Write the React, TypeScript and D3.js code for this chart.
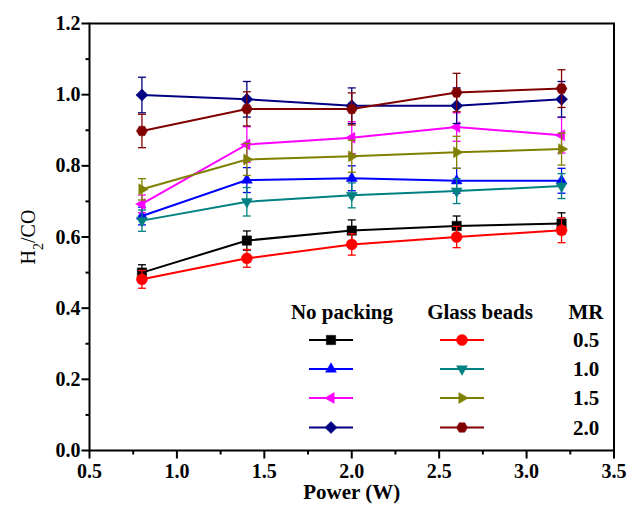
import React from "react";
import * as d3 from "d3";

const power = [0.8, 1.4, 2.0, 2.6, 3.2];

const npMR05 = [0.5, 0.59, 0.618, 0.631, 0.638];
const npMR05Err = [0.022, 0.027, 0.03, 0.028, 0.03];
const npMR10 = [0.659, 0.76, 0.765, 0.758, 0.758];
const npMR10Err = [0.025, 0.035, 0.035, 0.035, 0.035];
const npMR15 = [0.693, 0.86, 0.879, 0.909, 0.886];
const npMR15Err = [0.025, 0.05, 0.045, 0.04, 0.05];
const npMR20 = [0.999, 0.987, 0.969, 0.969, 0.987];
const npMR20Err = [0.05, 0.05, 0.05, 0.05, 0.05];

const gbMR05 = [0.481, 0.54, 0.579, 0.6, 0.619];
const gbMR05Err = [0.025, 0.025, 0.03, 0.03, 0.035];
const gbMR10 = [0.646, 0.699, 0.717, 0.729, 0.743];
const gbMR10Err = [0.03, 0.04, 0.035, 0.035, 0.035];
const gbMR15 = [0.734, 0.818, 0.827, 0.838, 0.847];
const gbMR15Err = [0.03, 0.045, 0.045, 0.045, 0.045];
const gbMR20 = [0.898, 0.96, 0.96, 1.006, 1.017];
const gbMR20Err = [0.047, 0.048, 0.045, 0.054, 0.053];

const mrLabels = ["0.5", "1.0", "1.5", "2.0"];
const xTicks = [0.5, 1.0, 1.5, 2.0, 2.5, 3.0, 3.5];
const yTicks = [0.0, 0.2, 0.4, 0.6, 0.8, 1.0, 1.2];

type Shape = "square" | "circle" | "up" | "down" | "left" | "right" | "diamond" | "hexagon";

const series: { name: string; values: number[]; err: number[]; color: string; shape: Shape; group: number; row: number }[] = [
  { name: "No packing MR 0.5", values: npMR05, err: npMR05Err, color: "#000000", shape: "square", group: 0, row: 0 },
  { name: "No packing MR 1.0", values: npMR10, err: npMR10Err, color: "#0000ff", shape: "up", group: 0, row: 1 },
  { name: "No packing MR 1.5", values: npMR15, err: npMR15Err, color: "#ff00ff", shape: "left", group: 0, row: 2 },
  { name: "No packing MR 2.0", values: npMR20, err: npMR20Err, color: "#000080", shape: "diamond", group: 0, row: 3 },
  { name: "Glass beads MR 0.5", values: gbMR05, err: gbMR05Err, color: "#ff0000", shape: "circle", group: 1, row: 0 },
  { name: "Glass beads MR 1.0", values: gbMR10, err: gbMR10Err, color: "#008080", shape: "down", group: 1, row: 1 },
  { name: "Glass beads MR 1.5", values: gbMR15, err: gbMR15Err, color: "#808000", shape: "right", group: 1, row: 2 },
  { name: "Glass beads MR 2.0", values: gbMR20, err: gbMR20Err, color: "#800000", shape: "hexagon", group: 1, row: 3 },
];

function poly(n: number, r: number, startDeg: number) {
  const pts: string[] = [];
  for (let i = 0; i < n; i++) {
    const a = ((startDeg + (360 / n) * i) * Math.PI) / 180;
    pts.push(`${(r * Math.cos(a)).toFixed(2)},${(r * Math.sin(a)).toFixed(2)}`);
  }
  return "M" + pts.join("L") + "Z";
}

function markerPath(shape: Shape, r: number) {
  switch (shape) {
    case "square": {
      const s = r * 0.85;
      return `M${-s},${-s}L${s},${-s}L${s},${s}L${-s},${s}Z`;
    }
    case "circle":
      return `M${r},0A${r},${r} 0 1,1 ${-r},0A${r},${r} 0 1,1 ${r},0Z`;
    case "up":
      return poly(3, r * 1.15, -90);
    case "down":
      return poly(3, r * 1.15, 90);
    case "left":
      return poly(3, r * 1.15, 180);
    case "right":
      return poly(3, r * 1.15, 0);
    case "diamond":
      return poly(4, r * 1.1, -90);
    case "hexagon":
      return poly(6, r, 0);
  }
}

const W = 630;
const H = 505;
const left = 89.5;
const right = 614;
const top = 23.5;
const bottom = 450.5;

export default function App() {
  const x = d3.scaleLinear().domain([0.5, 3.5]).range([left, right]);
  const y = d3.scaleLinear().domain([0, 1.2]).range([bottom, top]);
  const line = d3
    .line<number>()
    .x((_, i) => x(power[i]))
    .y((v) => y(v));

  const xMinor = d3.range(0.75, 3.5, 0.5);
  const yMinor = d3.range(0.1, 1.2, 0.2);
  const font = "'Liberation Serif', 'Times New Roman', serif";
  const r = 5.5;

  const legendX = [{ x1: 309, x2: 353 }, { x1: 440, x2: 484 }];
  const legendRowY = [340, 369, 398, 427.5];

  return (
    <svg width={W} height={H} style={{ position: "absolute", left: 0, top: 0, background: "#fff" }} fontFamily={font}>
      <rect x={0} y={0} width={W} height={H} fill="#fff" />
      {/* series */}
      {series.map((s) => (
        <g key={s.name}>
          {s.values.map((v, i) => (
            <g key={i} stroke={s.color} strokeWidth={1.3}>
              <line x1={x(power[i])} x2={x(power[i])} y1={y(v - s.err[i])} y2={y(v + s.err[i])} />
              <line x1={x(power[i]) - 4} x2={x(power[i]) + 4} y1={y(v + s.err[i])} y2={y(v + s.err[i])} />
              <line x1={x(power[i]) - 4} x2={x(power[i]) + 4} y1={y(v - s.err[i])} y2={y(v - s.err[i])} />
            </g>
          ))}
          <path d={line(s.values) || ""} fill="none" stroke={s.color} strokeWidth={2} />
          {s.values.map((v, i) => (
            <path key={i} d={markerPath(s.shape, r)} transform={`translate(${x(power[i])},${y(v)})`} fill={s.color} stroke={s.color} strokeWidth={0.5} />
          ))}
        </g>
      ))}
      {/* frame */}
      <rect x={left} y={top} width={right - left} height={bottom - top} fill="none" stroke="#000" strokeWidth={2} />
      {/* x ticks */}
      {xTicks.map((t) => (
        <g key={"xt" + t}>
          <line x1={x(t)} x2={x(t)} y1={bottom} y2={bottom + 8} stroke="#000" strokeWidth={2} />
          <text x={x(t)} y={bottom + 27} textAnchor="middle" fontSize={20} fontWeight="bold">
            {t.toFixed(1)}
          </text>
        </g>
      ))}
      {xMinor.map((t) => (
        <line key={"xm" + t} x1={x(t)} x2={x(t)} y1={bottom} y2={bottom + 4} stroke="#000" strokeWidth={2} />
      ))}
      {/* y ticks */}
      {yTicks.map((t) => (
        <g key={"yt" + t}>
          <line x1={left - 8} x2={left} y1={y(t)} y2={y(t)} stroke="#000" strokeWidth={2} />
          <text x={left - 9} y={y(t) + 6.5} textAnchor="end" fontSize={20} fontWeight="bold">
            {t.toFixed(1)}
          </text>
        </g>
      ))}
      {yMinor.map((t) => (
        <line key={"ym" + t} x1={left - 4} x2={left} y1={y(t)} y2={y(t)} stroke="#000" strokeWidth={2} />
      ))}
      {/* axis titles */}
      <text x={(left + right) / 2} y={bottom + 48} textAnchor="middle" fontSize={21} fontWeight="bold">
        Power (W)
      </text>
      <text transform={`translate(35,${(top + bottom) / 2}) rotate(-90)`} textAnchor="middle" fontSize={20}>
        H<tspan baselineShift="sub" fontSize={14}>2</tspan>/CO
      </text>
      {/* legend */}
      <text x={342} y={319} textAnchor="middle" fontSize={21} fontWeight="bold">No packing</text>
      <text x={480} y={319} textAnchor="middle" fontSize={21} fontWeight="bold">Glass beads</text>
      <text x={586} y={319} textAnchor="middle" fontSize={21} fontWeight="bold">MR</text>
      {series.map((s) => {
        const lx = legendX[s.group];
        const ly = legendRowY[s.row];
        const cx = (lx.x1 + lx.x2) / 2;
        return (
          <g key={"lg" + s.name}>
            <line x1={lx.x1} x2={lx.x2} y1={ly} y2={ly} stroke={s.color} strokeWidth={2} />
            <path d={markerPath(s.shape, r)} transform={`translate(${cx},${ly})`} fill={s.color} stroke={s.color} strokeWidth={0.5} />
          </g>
        );
      })}
      {mrLabels.map((m, i) => (
        <text key={"mr" + m} x={586} y={legendRowY[i] + 7} textAnchor="middle" fontSize={21} fontWeight="bold">
          {m}
        </text>
      ))}
    </svg>
  );
}
